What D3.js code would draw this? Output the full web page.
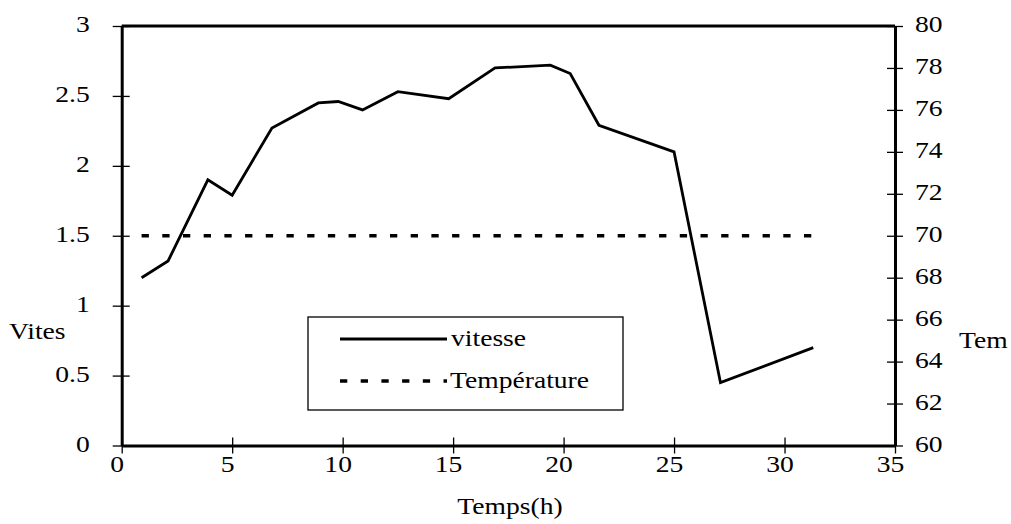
<!DOCTYPE html>
<html>
<head>
<meta charset="utf-8">
<script src="https://cdn.jsdelivr.net/npm/d3@7"></script>
<style>
  html, body { margin: 0; padding: 0; background: #fff; }
  svg text { font-family: "Liberation Serif", "Times New Roman", Times, serif !important; fill: #000; }
</style>
</head>
<body>
<svg id="chart" width="1011" height="524"></svg>
<script>
// ---- data ----
const times = [0.9, 2.1, 3.9, 5.0, 6.8, 8.9, 9.8, 10.9, 12.5, 14.8, 16.9, 19.4, 20.3, 21.6, 25.0, 27.1, 31.3];
const vitesse = [1.2, 1.32, 1.9, 1.79, 2.27, 2.45, 2.46, 2.40, 2.53, 2.48, 2.70, 2.72, 2.66, 2.29, 2.10, 0.45, 0.70];
const temperature = [70, 70, 70, 70, 70, 70, 70, 70, 70, 70, 70, 70, 70, 70, 70, 70, 70];
const xTicks = [0, 5, 10, 15, 20, 25, 30, 35];
const yLeftTicks = [0, 0.5, 1, 1.5, 2, 2.5, 3];
const yRightTicks = [60, 62, 64, 66, 68, 70, 72, 74, 76, 78, 80];
const seriesNames = ["vitesse", "Température"];

// ---- layout ----
const L = 121.7, R = 895, T = 26, B = 445.5;
const FS = 24;      // font size
const SX = 1.15;    // horizontal glyph stretch seen in the reference
const FONT = "Liberation Serif";
const svg = d3.select("#chart");

const x = d3.scaleLinear().domain([0, 35]).range([L, R]);
const yL = d3.scaleLinear().domain([0, 3]).range([B, T]);
const yR = d3.scaleLinear().domain([60, 80]).range([B, T]);

function label(g, px, py, txt, anchor) {
  return g.append("text")
    .attr("transform", `translate(${px},${py}) scale(${SX},1)`)
    .attr("text-anchor", anchor || "start")
    .attr("dominant-baseline", "middle")
    .attr("font-family", FONT)
    .attr("font-size", FS)
    .text(txt);
}

// frame top
svg.append("line").attr("x1", L).attr("x2", R).attr("y1", T).attr("y2", T)
  .attr("stroke", "#000").attr("stroke-width", 3);

// bottom axis
const gx = svg.append("g").attr("transform", `translate(0,${B})`)
  .call(d3.axisBottom(x).tickValues(xTicks).tickFormat(d3.format("d")).tickSize(8).tickSizeOuter(0));
gx.select(".domain").attr("stroke-width", 3);
gx.selectAll(".tick line").attr("y1", -8).attr("stroke-width", 1.3);
gx.selectAll(".tick text").attr("font-size", FS).attr("font-family", FONT)
  .attr("y", 0).attr("dy", null).attr("dominant-baseline", "middle")
  .attr("x", -5 / SX)
  .attr("transform", `translate(0,21) scale(${SX},1)`);

// left axis
const gl = svg.append("g").attr("transform", `translate(${L},0)`)
  .call(d3.axisLeft(yL).tickValues(yLeftTicks).tickFormat(d => String(d)).tickSize(9).tickSizeOuter(0));
gl.select(".domain").attr("stroke-width", 3);
gl.selectAll(".tick line").attr("x1", 8).attr("stroke-width", 1.3);
gl.selectAll(".tick text").attr("font-size", FS).attr("font-family", FONT)
  .attr("x", -32 / SX).attr("dy", null).attr("dominant-baseline", "middle")
  .attr("transform", `scale(${SX},1)`);

// right axis
const gr = svg.append("g").attr("transform", `translate(${R},0)`)
  .call(d3.axisRight(yR).tickValues(yRightTicks).tickFormat(d => String(d)).tickSize(8).tickSizeOuter(0));
gr.select(".domain").attr("stroke-width", 3);
gr.selectAll(".tick line").attr("x1", -8).attr("stroke-width", 1.3);
gr.selectAll(".tick text").attr("font-size", FS).attr("font-family", FONT)
  .attr("x", 20 / SX).attr("dy", null).attr("dominant-baseline", "middle")
  .attr("transform", `scale(${SX},1)`);

// axis titles
label(svg, 510, 508, "Temps(h)", "middle");
label(svg, 9, 333, "Vites", "start");
label(svg, 959, 342, "Tem", "start");

// series
const data = times.map((t, i) => ({ t, v: vitesse[i], temp: temperature[i] }));
svg.append("path").datum(data)
  .attr("d", d3.line().x(d => x(d.t)).y(d => yR(d.temp)))
  .attr("fill", "none").attr("stroke", "#000").attr("stroke-width", 3.5)
  .attr("stroke-dasharray", "7.3,13.4");
svg.append("path").datum(data)
  .attr("d", d3.line().x(d => x(d.t)).y(d => yL(d.v)))
  .attr("fill", "none").attr("stroke", "#000").attr("stroke-width", 2.8)
  .attr("stroke-linejoin", "miter");

// legend
const lg = svg.append("g");
lg.append("rect").attr("x", 308).attr("y", 317).attr("width", 315).attr("height", 93)
  .attr("fill", "#fff").attr("stroke", "#000").attr("stroke-width", 1.3);
lg.append("line").attr("x1", 340).attr("x2", 447).attr("y1", 339).attr("y2", 339)
  .attr("stroke", "#000").attr("stroke-width", 2.8);
lg.append("line").attr("x1", 340).attr("x2", 447).attr("y1", 381).attr("y2", 381)
  .attr("stroke", "#000").attr("stroke-width", 3.5).attr("stroke-dasharray", "7.3,13.4");
label(lg, 451, 340, seriesNames[0], "start");
label(lg, 450, 382, seriesNames[1], "start");
</script>
</body>
</html>
